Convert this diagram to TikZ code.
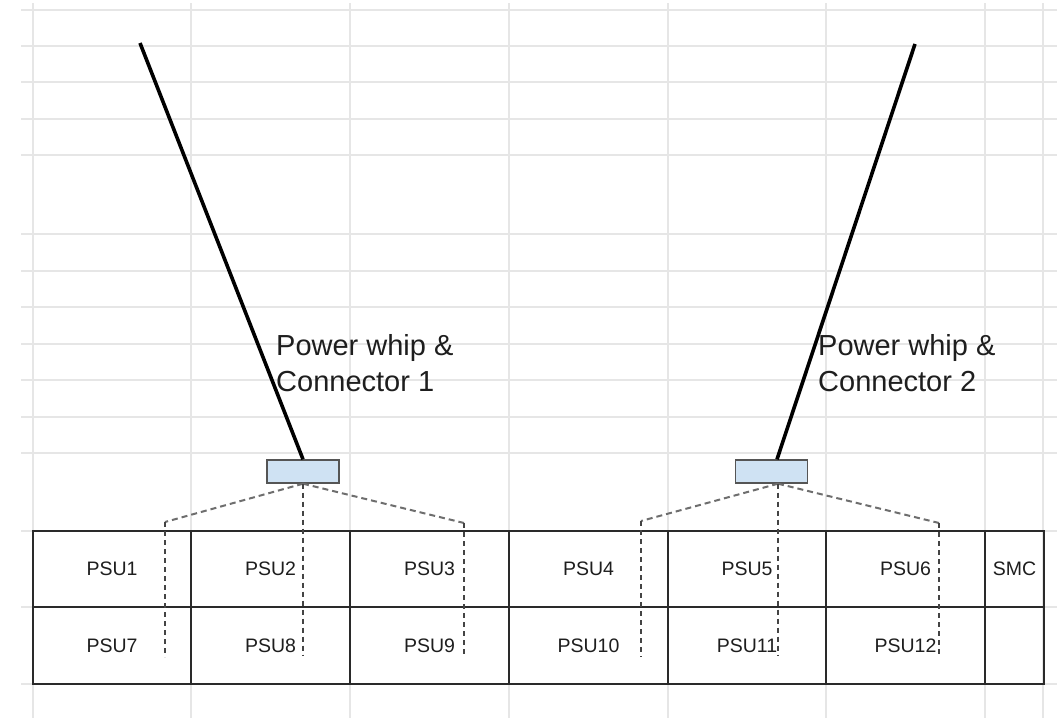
\documentclass[tikz,border=0pt]{standalone}
\usepackage{fontspec}
\setmainfont{Liberation Sans}
\definecolor{gridgray}{HTML}{E6E6E6}
\definecolor{cellline}{HTML}{2A2A2A}
\definecolor{boxfill}{HTML}{CFE2F3}
\definecolor{boxline}{HTML}{555555}
\definecolor{textdark}{HTML}{1E1E1E}
\definecolor{diaggray}{HTML}{6E6E6E}
\definecolor{vertgray}{HTML}{444444}
\begin{document}
\begin{tikzpicture}[x=1pt,y=-1pt,
  gridline/.style={draw=gridgray,line width=1.3pt},
  cell/.style={draw=cellline,line width=1.6pt,minimum height=76.5pt,inner sep=0pt,
    font=\fontsize{19.5}{23}\selectfont,text=textdark},
  connbox/.style={draw=boxline,fill=boxfill,line width=1.4pt,minimum width=72pt,
    minimum height=23pt,inner sep=0pt},
  whip/.style={draw=black,line width=3.6pt},
  fanline/.style={draw=diaggray,line width=2pt,dash pattern=on 6pt off 4pt},
  dropline/.style={draw=vertgray,line width=1.3pt,dash pattern=on 5pt off 4pt},
  whiplabel/.style={align=left,inner sep=0pt,text=textdark,
    font=\fontsize{29}{36}\selectfont}]
\useasboundingbox (0,0) rectangle (1063,718);
\fill[white] (0,0) rectangle (1063,718);

% spreadsheet grid
\foreach \gx in {33,191,350,509,668,826,985,1043}
  \draw[gridline] (\gx,3) -- (\gx,718);
\foreach \gy in {10,46,82,119,155,234,271,307,344,380,417,453,531,607,684}
  \draw[gridline] (21,\gy) -- (1057,\gy);

% PSU table
\node[cell,minimum width=158pt] (psu1)  at (112,569)   {PSU1};
\node[cell,minimum width=159pt] (psu2)  at (270.5,569) {PSU2};
\node[cell,minimum width=159pt] (psu3)  at (429.5,569) {PSU3};
\node[cell,minimum width=159pt] (psu4)  at (588.5,569) {PSU4};
\node[cell,minimum width=158pt] (psu5)  at (747,569)   {PSU5};
\node[cell,minimum width=159pt] (psu6)  at (905.5,569) {PSU6};
\node[cell,minimum width=59pt]  (smc)   at (1014.5,569) {SMC};
\node[cell,minimum width=158pt] (psu7)  at (112,645.5)   {PSU7};
\node[cell,minimum width=159pt] (psu8)  at (270.5,645.5) {PSU8};
\node[cell,minimum width=159pt] (psu9)  at (429.5,645.5) {PSU9};
\node[cell,minimum width=159pt] (psu10) at (588.5,645.5) {PSU10};
\node[cell,minimum width=158pt] (psu11) at (747,645.5)   {PSU11};
\node[cell,minimum width=159pt] (psu12) at (905.5,645.5) {PSU12};
\node[cell,minimum width=59pt]  (spare) at (1014.5,645.5) {};

% connectors
\node[connbox] (c1) at (303,471.5) {};
\node[connbox] (c2) at (771.5,471.5) {};
\coordinate (c1top) at (c1.north);
\coordinate (c1bot) at (c1.south);
\coordinate (c2top) at ([xshift=5.5pt]c2.north);
\coordinate (c2bot) at ([xshift=6.5pt]c2.south);

% power whips
\coordinate (w1) at (140,43);
\coordinate (w2) at (915,44);
\draw[whip] (w1) -- (c1top);
\draw[whip] (w2) -- (c2top);

% labels (base anchor sits on the second line)
\node[whiplabel,anchor=base west] (l1) at (276,391) {Power whip \&\\Connector 1};
\node[whiplabel,anchor=base west] (l2) at (818,391) {Power whip \&\\Connector 2};

% fan-out to the PSU slots
\coordinate (k1) at (165,522);
\coordinate (k2) at (464,523);
\coordinate (k3) at (641,521);
\coordinate (k4) at (939,523);
\coordinate (e1) at (165,657);
\coordinate (e2) at (464,657);
\coordinate (e3) at (641,657);
\coordinate (e4) at (939,657);
\coordinate (m1) at (303,656);
\coordinate (m2) at (778,656);

\draw[fanline] (c1bot) -- (k1);
\draw[fanline] (c1bot) -- (k2);
\draw[fanline] (c2bot) -- (k3);
\draw[fanline] (c2bot) -- (k4);
\draw[dropline] (k1) -- (e1);
\draw[dropline] (k2) -- (e2);
\draw[dropline] (k3) -- (e3);
\draw[dropline] (k4) -- (e4);
\draw[dropline] (c1bot) -- (m1);
\draw[dropline] (c2bot) -- (m2);
\end{tikzpicture}
\end{document}
